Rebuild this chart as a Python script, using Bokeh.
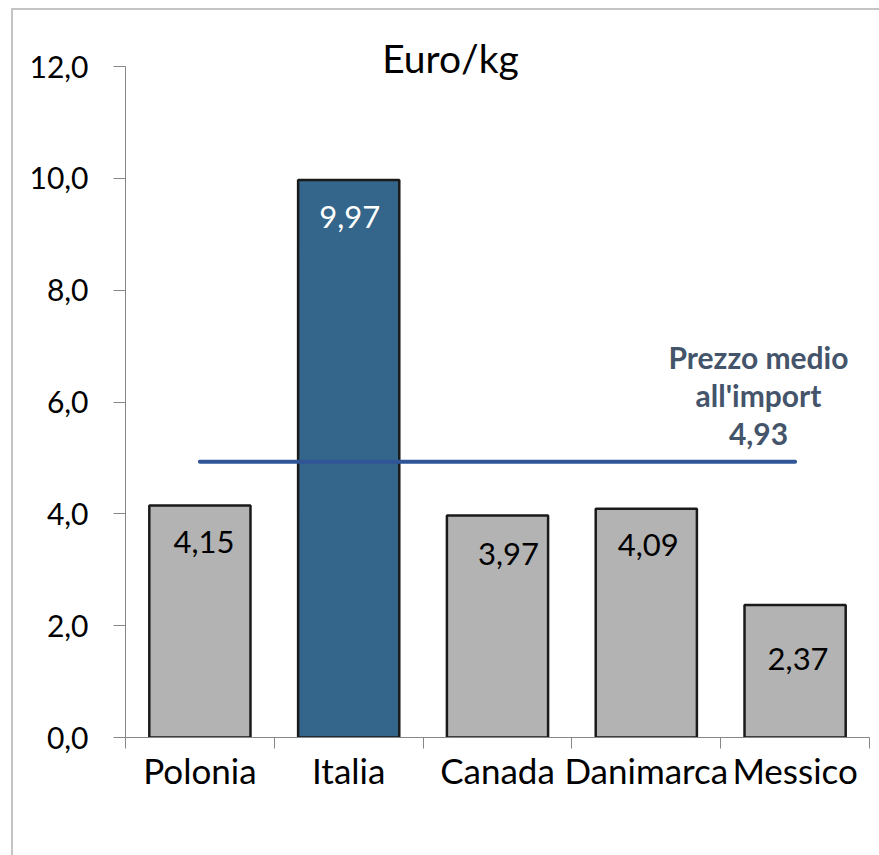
from bokeh.plotting import figure
from bokeh.models import FixedTicker, InlineStyleSheet
from bokeh.core.properties import value
from bokeh.embed import file_html
from bokeh.resources import INLINE

# ---- data ----
categories = ["Polonia", "Italia", "Canada", "Danimarca", "Messico"]
prices = [4.15, 9.97, 3.97, 4.09, 2.37]
avg_price = 4.93
y_ticks = [0, 2, 4, 6, 8, 10, 12]
title_text = "Euro/kg"
avg_caption = ["Prezzo medio", "all'import"]

# ---- styling ----
bar_colors = ["#B3B3B3", "#34658A", "#B3B3B3", "#B3B3B3", "#B3B3B3"]
label_colors = ["black", "white", "black", "black", "black"]
label_dx = [4, 1, 11, 2, 3]          # px
label_dy = [37, 37, 38, 36, 54]      # px below bar top
FONT = "Lato"

def it(v, d):
    return f"{v:.{d}f}".replace(".", ",")

centers = [i + 0.5 for i in range(len(categories))]
bounds = list(range(len(categories) + 1))

W, H = 879, 855
FL, FR, FT, FB = 125, 10, 32, 118       # frame borders (px)
AXIS_TOP_PX = 66                         # canvas px where 12,0 sits
y_top = y_ticks[-1] * (H - FB - FT) / (H - FB - AXIS_TOP_PX)

css = InlineStyleSheet(css="""
:host { position: relative; }
:host::after { content: ''; position: absolute; left: 11px; top: 8px; right: 0; bottom: 0;
  border-top: 2px solid #C4C4C4; border-left: 2px solid #C4C4C4; pointer-events: none; }
""")

p = figure(width=W, height=H, output_backend="svg", toolbar_location=None,
           x_range=(0, len(categories)), y_range=(0, y_top),
           min_border_left=FL, min_border_right=FR, min_border_top=FT, min_border_bottom=FB,
           stylesheets=[css])
p.outline_line_color = None
p.xgrid.visible = False
p.ygrid.visible = False
p.background_fill_color = "white"
p.border_fill_color = "white"

p.vbar(x=centers, top=prices, width=0.68, bottom=0, fill_color=bar_colors,
       line_color="#1A1A1A", line_width=2.5)

p.line(x=[centers[0], centers[-1]], y=[avg_price, avg_price], line_color="#2F5597",
       line_width=4, line_cap="round")

p.text(x=centers, y=prices, text=[it(v, 2) for v in prices], x_offset=label_dx, y_offset=label_dy,
       text_align="center", text_baseline="middle", text_font=value(FONT),
       text_font_size="31px", text_color=label_colors)

cap_lines = avg_caption + [it(avg_price, 2)]
cap_offsets = [-105, -67, -28]
p.text(x=[4.254] * 3, y=[avg_price] * 3, text=cap_lines, y_offset=cap_offsets,
       text_align="center", text_baseline="middle", text_font=value(FONT),
       text_font_style="bold", text_font_size="30px", text_color="#44546A")

p.text(x=[2.184], y=[y_ticks[-1]], text=[title_text], y_offset=[-9], text_align="center",
       text_baseline="middle", text_font=value(FONT), text_font_size="39px",
       text_color="black")

# y axis
ya = p.yaxis[0]
ya.ticker = FixedTicker(ticks=y_ticks)
ya.bounds = (y_ticks[0], y_ticks[-1])
ya.major_label_overrides = {t: it(t, 1) for t in y_ticks}
ya.axis_line_color = "#868686"
ya.major_tick_line_color = "#868686"
ya.major_tick_out = 12
ya.major_tick_in = 0
ya.minor_tick_line_color = None
ya.major_label_standoff = 25
ya.major_label_text_font = FONT
ya.major_label_text_font_size = "30px"
ya.major_label_text_color = "black"

# x axis
xa = p.xaxis[0]
xa.ticker = FixedTicker(ticks=centers, minor_ticks=bounds)
xa.major_label_overrides = {c: n for c, n in zip(centers, categories)}
xa.axis_line_color = "#868686"
xa.major_tick_line_color = None
xa.major_tick_out = 0
xa.major_tick_in = 0
xa.minor_tick_line_color = "#868686"
xa.minor_tick_out = 11
xa.minor_tick_in = 0
xa.major_label_standoff = 0
xa.major_label_text_font = FONT
xa.major_label_text_font_size = "35px"
xa.major_label_text_color = "black"

open("out.html", "w").write(file_html(p, INLINE))
